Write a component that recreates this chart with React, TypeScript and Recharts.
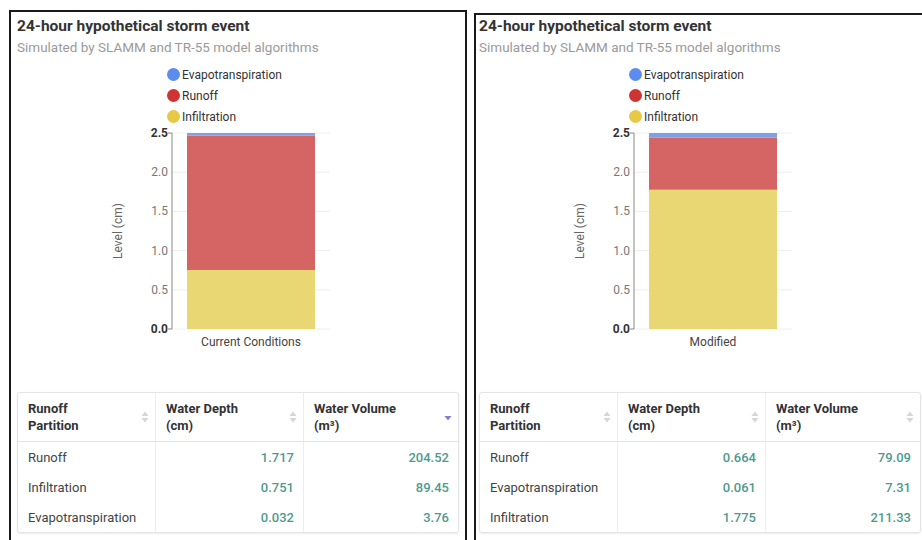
import { BarChart, Bar, XAxis, YAxis, CartesianGrid, Legend } from 'recharts'

// stacked from the bottom up
const seriesOrder = ['Infiltration', 'Runoff', 'Evapotranspiration']
const legendOrder = ['Evapotranspiration', 'Runoff', 'Infiltration']

const currentCategories = ['Current Conditions']
const currentInfiltration = [0.751]
const currentRunoff = [1.717]
const currentEvapo = [0.032]

const modifiedCategories = ['Modified']
const modifiedInfiltration = [1.775]
const modifiedRunoff = [0.664]
const modifiedEvapo = [0.061]

const yTicks = [0, 0.5, 1, 1.5, 2, 2.5]

const currentPartitions = ['Runoff', 'Infiltration', 'Evapotranspiration']
const currentDepths = ['1.717', '0.751', '0.032']
const currentVolumes = ['204.52', '89.45', '3.76']

const modifiedPartitions = ['Runoff', 'Evapotranspiration', 'Infiltration']
const modifiedDepths = ['0.664', '0.061', '1.775']
const modifiedVolumes = ['79.09', '7.31', '211.33']

const barColors: Record<string, string> = {
  Infiltration: '#e9d774',
  Runoff: '#d56565',
  Evapotranspiration: '#7ea0e4',
}
const dotColors: Record<string, string> = {
  Infiltration: '#e8c945',
  Runoff: '#cf3434',
  Evapotranspiration: '#5b8def',
}

const FONT = 'Roboto, "Noto Sans", sans-serif'

function buildRows(cats: string[], inf: number[], run: number[], evap: number[]) {
  return cats.map((name, i) => ({
    name,
    Infiltration: inf[i],
    Runoff: run[i],
    Evapotranspiration: evap[i],
  }))
}

function LegendList(props: any) {
  const payload: any[] = props.payload ?? []
  const items = legendOrder
    .map((k) => payload.find((p) => p.value === k))
    .filter(Boolean)
  return (
    <div style={{ fontFamily: FONT, fontSize: 12, color: '#333' }}>
      {items.map((it: any) => (
        <div key={it.value} style={{ display: 'flex', alignItems: 'center', height: 21 }}>
          <span
            style={{
              width: 13,
              height: 13,
              borderRadius: '50%',
              background: dotColors[it.value],
              display: 'inline-block',
            }}
          />
          <span style={{ marginLeft: 2 }}>{it.value}</span>
        </div>
      ))}
    </div>
  )
}

function YTick(props: any) {
  const { x, y, payload } = props
  const edge = payload.value === 0 || payload.value === 2.5
  const axisX = x + 4
  return (
    <g>
      {edge && <line x1={axisX - 4} x2={axisX} y1={y} y2={y} stroke="#888" />}
      <text
        x={x}
        y={y}
        dy={4}
        textAnchor="end"
        fontFamily={FONT}
        fontSize={12}
        fontWeight={edge ? 700 : 400}
        fill={edge ? '#333' : '#777'}
      >
        {payload.value.toFixed(1)}
      </text>
    </g>
  )
}

function StormChart({ rows, left }: { rows: any[]; left: number }) {
  return (
    <div style={{ position: 'absolute', left, top: 60 }}>
      <BarChart width={240} height={300} data={rows} margin={{ top: 73, right: 19, bottom: 1, left: 5 }}>
        <CartesianGrid vertical={false} stroke="#eeeeee" />
        <XAxis
          dataKey="name"
          axisLine={false}
          tickLine={false}
          height={30}
          tick={{ fontSize: 12, fill: '#444', fontFamily: FONT }}
        />
        <YAxis
          width={58}
          domain={[0, 2.5]}
          ticks={yTicks}
          tickLine={false}
          tickSize={2}
          tickMargin={2}
          axisLine={{ stroke: '#888' }}
          tick={<YTick />}
          label={{
            value: 'Level (cm)',
            angle: -90,
            position: 'insideLeft',
            offset: 4,
            style: { textAnchor: 'middle', fontSize: 12, fill: '#666', fontFamily: FONT },
          }}
        />
        <Legend
          layout="vertical"
          align="center"
          verticalAlign="middle"
          wrapperStyle={{ left: 58, top: 4, width: 'auto' }}
          content={<LegendList />}
        />
        {seriesOrder.map((key) => (
          <Bar key={key} dataKey={key} stackId="a" fill={barColors[key]} barSize={128} isAnimationActive={false} />
        ))}
      </BarChart>
    </div>
  )
}

function SortIcon({ active }: { active: boolean }) {
  return (
    <svg width={8} height={14} style={{ position: 'absolute', right: 6, top: 17 }}>
      {active ? (
        <path d="M0.5 6 L7.5 6 L4 10.5 Z" fill="#7f7fd4" />
      ) : (
        <>
          <path d="M0.5 6 L7.5 6 L4 1.5 Z" fill="#d6d6d6" />
          <path d="M0.5 8 L7.5 8 L4 12.5 Z" fill="#d6d6d6" />
        </>
      )}
    </svg>
  )
}

function PartitionTable(props: {
  left: number
  names: string[]
  depths: string[]
  volumes: string[]
  sortedCol: number
}) {
  const { left, names, depths, volumes, sortedCol } = props
  const headers = [
    ['Runoff', 'Partition'],
    ['Water Depth', '(cm)'],
    ['Water Volume', '(m³)'],
  ]
  const th = (i: number): React.CSSProperties => ({
    position: 'relative',
    height: 48,
    padding: '0 20px 0 10px',
    textAlign: 'left',
    verticalAlign: 'middle',
    fontWeight: 700,
    fontSize: 13,
    lineHeight: '17px',
    color: '#333',
    borderBottom: '1px solid #e4e4e4',
    borderLeft: i > 0 ? '1px solid #ededed' : 'none',
  })
  const td = (i: number): React.CSSProperties => ({
    height: 30,
    padding: i === 0 ? '0 8px 0 10px' : '0 9px 0 8px',
    fontSize: 13,
    textAlign: i === 0 ? 'left' : 'right',
    color: i === 0 ? '#444' : '#4f9a8f',
    fontWeight: i === 0 ? 400 : 500,
    borderLeft: i > 0 ? '1px solid #ededed' : 'none',
    whiteSpace: 'nowrap',
  })
  return (
    <table
      style={{
        position: 'absolute',
        left,
        top: 392,
        width: 440,
        tableLayout: 'fixed',
        borderCollapse: 'separate',
        borderSpacing: 0,
        border: '1px solid #e4e4e4',
        borderRadius: 3,
        boxShadow: '0 1px 2px rgba(0,0,0,0.08)',
        fontFamily: FONT,
      }}
    >
      <colgroup>
        <col style={{ width: 137 }} />
        <col style={{ width: 148 }} />
        <col style={{ width: 155 }} />
      </colgroup>
      <thead>
        <tr>
          {headers.map((h, i) => (
            <th key={i} style={th(i)}>
              {h[0]}
              <br />
              {h[1]}
              <SortIcon active={i === sortedCol} />
            </th>
          ))}
        </tr>
      </thead>
      <tbody>
        {names.map((n, r) => (
          <tr key={n}>
            <td style={td(0)}>{n}</td>
            <td style={td(1)}>{depths[r]}</td>
            <td style={td(2)}>{volumes[r]}</td>
          </tr>
        ))}
      </tbody>
    </table>
  )
}

function Panel(props: {
  dx: number
  rows: any[]
  names: string[]
  depths: string[]
  volumes: string[]
  sortedCol: number
}) {
  const { dx } = props
  return (
    <>
      <div
        style={{
          position: 'absolute',
          left: dx + 17,
          top: 17,
          fontFamily: FONT,
          fontSize: 15.5,
          fontWeight: 700,
          color: '#333',
          whiteSpace: 'nowrap',
        }}
      >
        24-hour hypothetical storm event
      </div>
      <div
        style={{
          position: 'absolute',
          left: dx + 17,
          top: 39,
          fontFamily: FONT,
          fontSize: 13.5,
          color: '#9a9a9a',
          whiteSpace: 'nowrap',
        }}
      >
        Simulated by SLAMM and TR-55 model algorithms
      </div>
      <StormChart rows={props.rows} left={dx + 109} />
      <PartitionTable
        left={dx + 17}
        names={props.names}
        depths={props.depths}
        volumes={props.volumes}
        sortedCol={props.sortedCol}
      />
    </>
  )
}

export default function App() {
  const currentRows = buildRows(currentCategories, currentInfiltration, currentRunoff, currentEvapo)
  const modifiedRows = buildRows(modifiedCategories, modifiedInfiltration, modifiedRunoff, modifiedEvapo)
  return (
    <div style={{ position: 'relative', width: 922, height: 540, overflow: 'hidden', background: '#fff' }}>
      <style>{'body{margin:0}'}</style>
      <div
        style={{
          position: 'absolute',
          left: 9,
          top: 10,
          width: 458,
          height: 560,
          border: '2px solid #1a1a1a',
          boxSizing: 'border-box',
        }}
      />
      <div
        style={{
          position: 'absolute',
          left: 474,
          top: 13,
          width: 470,
          height: 560,
          border: '2px solid #1a1a1a',
          boxSizing: 'border-box',
        }}
      />
      <Panel
        dx={0}
        rows={currentRows}
        names={currentPartitions}
        depths={currentDepths}
        volumes={currentVolumes}
        sortedCol={2}
      />
      <Panel
        dx={462}
        rows={modifiedRows}
        names={modifiedPartitions}
        depths={modifiedDepths}
        volumes={modifiedVolumes}
        sortedCol={-1}
      />
    </div>
  )
}
